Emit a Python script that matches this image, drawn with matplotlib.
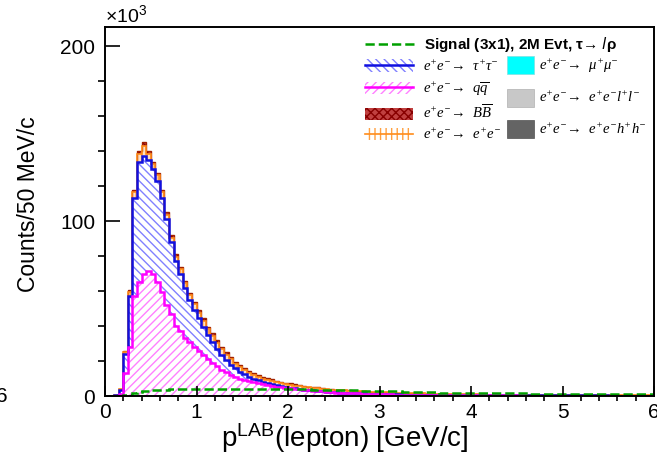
import numpy as np
import matplotlib
matplotlib.use('Agg')
import matplotlib.pyplot as plt
from matplotlib.patches import Patch
from matplotlib.lines import Line2D
from matplotlib.legend_handler import HandlerTuple
from matplotlib.ticker import MultipleLocator

plt.rcParams['font.family'] = ['Liberation Sans', 'DejaVu Sans']
plt.rcParams['mathtext.default'] = 'regular'
plt.rcParams['hatch.linewidth'] = 1.0

# p_LAB(lepton), 50 MeV bins from 0 to 6 GeV/c, counts in units of 10^3
bin_width = 0.05
n_bins = 120

qq = [0, 0, 0.2, 1.0, 13, 28, 57, 65, 70, 71.6,
      70, 65, 59.6, 52, 47, 40, 37, 33, 31, 28,
      26, 23.5, 21, 19, 17, 15, 13.5, 12, 11, 10,
      9, 8.4, 7.8, 7.2, 6.6, 6.1, 5.7, 5.3, 5.0, 4.7,
      4.4, 4.1, 3.8, 3.5, 3.2, 3.0, 2.8, 2.6, 2.4, 2.2,
      2.0, 1.9, 1.8, 1.7, 1.6, 1.5, 1.4, 1.3, 1.2, 1.1,
      1.0, 0.95, 0.9, 0.85, 0.8, 0.75, 0.7, 0.65, 0.6, 0.55,
      0.5, 0.5, 0.45, 0.45, 0.4, 0.4, 0.4, 0.35, 0.35, 0.35,
      0.3, 0.3, 0.3, 0.3, 0.3, 0.3, 0.3, 0.3, 0.3, 0.3,
      0.3, 0.3, 0.25, 0.25, 0.25, 0.25, 0.25, 0.25, 0.25, 0.25,
      0.25, 0.25, 0.25, 0.25, 0.25, 0.25, 0.25, 0.25, 0.25, 0.25,
      0.2, 0.2, 0.2, 0.2, 0.2, 0.2, 0.2, 0.2, 0.2, 0.2]

tautau = [0, 0.2, 0.3, 2.4, 11, 29, 56, 69, 67, 63.4,
          60, 58, 53.4, 49, 41, 37, 33, 29, 24, 21,
          18.5, 16.1, 14, 12, 10, 8.5, 7.1, 5.7, 5, 4,
          3.5, 2.6, 2.2, 1.8, 1.6, 1.3, 1.1, 0.9, 0.7, 0.5,
          0.4, 0.3, 0.3, 0.2, 0.2, 0.2, 0.2, 0.1, 0.1, 0.1,
          0.1, 0.1, 0.1, 0.1, 0.1, 0.1, 0.1, 0.1, 0.1, 0.1,
          0.1, 0.1, 0.1, 0.1, 0.1, 0.1, 0.1, 0.1, 0.1, 0.1,
          0.1, 0.1, 0.1, 0.1, 0.1, 0.1, 0.1, 0.1, 0.1, 0.1,
          0.05, 0.05, 0.05, 0.05, 0.05, 0.05, 0.05, 0.05, 0.05, 0.05,
          0.05, 0.05, 0.05, 0.05, 0.05, 0.05, 0.05, 0.05, 0.05, 0.05,
          0.05, 0.05, 0.05, 0.05, 0.05, 0.05, 0.05, 0.05, 0.05, 0.05,
          0.05, 0.05, 0.05, 0.05, 0.05, 0.05, 0.05, 0.05, 0.05, 0.05]

ee = [0, 0, 0.1, 0.5, 1.1, 2.5, 3.8, 4.5, 6.2, 3.5,
      2.7, 3.1, 3.5, 2.6, 2.6, 2.6, 2.6, 2.6, 2.6, 3.5,
      3.0, 3.4, 3.1, 3.5, 3.5, 3.1, 3.0, 3.4, 2.4, 2.5,
      2.3, 2.3, 2.1, 2.0, 1.8, 1.8, 1.8, 1.7, 1.7, 1.7,
      1.7, 1.6, 1.6, 1.5, 1.5, 1.5, 1.5, 1.4, 1.4, 1.4,
      1.3, 1.3, 1.3, 1.2, 1.2, 1.2, 1.1, 1.1, 1.1, 1.0,
      1.0, 1.0, 0.95, 0.95, 0.9, 0.9, 0.85, 0.85, 0.8, 0.8,
      0.75, 0.75, 0.7, 0.7, 0.7, 0.65, 0.65, 0.6, 0.6, 0.6,
      0.55, 0.55, 0.55, 0.5, 0.5, 0.5, 0.5, 0.45, 0.45, 0.45,
      0.45, 0.4, 0.4, 0.4, 0.4, 0.4, 0.4, 0.4, 0.4, 0.4,
      0.4, 0.4, 0.35, 0.35, 0.35, 0.35, 0.35, 0.35, 0.35, 0.35,
      0.3, 0.3, 0.3, 0.3, 0.3, 0.3, 0.3, 0.3, 0.3, 0.3]

bb = [0, 0, 0, 0.1, 0.4, 1.0, 1.2, 1.5, 1.8, 1.5,
      1.3, 1.4, 1.5, 1.4, 1.4, 1.4, 1.4, 1.4, 1.4, 1.5,
      1.5, 1.5, 1.5, 1.5, 1.5, 1.4, 1.4, 1.4, 1.2, 1.2,
      1.2, 1.2, 1.1, 1.0, 1.0, 1.0, 0.9, 0.9, 0.8, 0.8,
      0.7, 0.7, 0.6, 0.6, 0.5, 0.5, 0.4, 0.4, 0.3, 0.3,
      0.3, 0.2, 0.2, 0.2, 0.1, 0.1, 0.1, 0.1, 0, 0] + [0] * 60

signal = [0, 0, 0, 0.1, 0.3, 0.8, 1.5, 2.2, 2.8, 3.1,
          3.3, 3.5, 3.6, 3.7, 3.8, 3.9, 3.9, 4.0, 4.0, 4.0,
          4.0, 4.0, 4.1, 4.1, 4.1, 4.1, 4.1, 4.1, 4.1, 4.1,
          4.1, 4.1, 4.1, 4.0, 4.0, 4.0, 4.0, 4.0, 3.9, 3.9,
          3.9, 3.9, 3.8, 3.8, 3.8, 3.7, 3.7, 3.6, 3.6, 3.5,
          3.5, 3.4, 3.4, 3.3, 3.2, 3.2, 3.1, 3.0, 3.0, 2.9,
          2.8, 2.8, 2.7, 2.6, 2.6, 2.5, 2.4, 2.4, 2.3, 2.2,
          2.2, 2.1, 2.1, 2.0, 2.0, 1.9, 1.9, 1.9, 1.8, 1.8,
          1.8, 1.7, 1.7, 1.7, 1.6, 1.6, 1.6, 1.6, 1.5, 1.5,
          1.5, 1.5, 1.5, 1.4, 1.4, 1.4, 1.4, 1.4, 1.4, 1.3,
          1.3, 1.3, 1.3, 1.3, 1.3, 1.3, 1.3, 1.3, 1.3, 1.3,
          1.2, 1.2, 1.2, 1.2, 1.2, 1.2, 1.2, 1.2, 1.2, 1.2]

edges = np.arange(n_bins + 1) * bin_width
tops = np.cumsum([qq, tautau, ee, bb], axis=0)

fig = plt.figure(figsize=(6.57, 4.63), dpi=100)
ax = fig.add_axes([105 / 657, 1 - 396 / 463, 549 / 657, 369 / 463])

# stacked fills (hatched, ROOT-like)
ax.stairs(tops[0], edges, baseline=0, fill=True, facecolor='none',
          edgecolor='#ff80ff', hatch='////', lw=0)
ax.stairs(tops[1], edges, baseline=tops[0], fill=True, facecolor='none',
          edgecolor='#8080ff', hatch='\\\\\\\\', lw=0)
ax.stairs(tops[2], edges, baseline=tops[1], fill=True, facecolor='#ffe0c0',
          edgecolor='#ffa040', hatch='|||', lw=0)
ax.stairs(tops[3], edges, baseline=tops[2], fill=True, facecolor='#c04040',
          edgecolor='#880000', hatch='xxxx', lw=0)

# outlines
ax.stairs(tops[3], edges, color='#a02000', lw=1.0)
ax.stairs(tops[2], edges, color='#ff8c1a', lw=1.2)
ax.stairs(tops[1], edges, color='#1010e0', lw=1.8)
ax.stairs(tops[0], edges, color='#ff00ff', lw=1.8)
ax.stairs(signal, edges, color='#00a000', ls='--', lw=1.8)

ax.set_xlim(0, 6)
ax.set_ylim(0, 211)
ax.set_xticks(range(7))
ax.xaxis.set_minor_locator(MultipleLocator(0.2))
ax.set_yticks([0, 100, 200])
ax.yaxis.set_minor_locator(MultipleLocator(20))
ax.tick_params(direction='in', top=False, right=False, labelsize=15, width=1.2)
ax.tick_params(axis='y', which='major', length=11, pad=7)
ax.tick_params(axis='y', which='minor', length=5, width=1.2)
ax.tick_params(axis='x', which='major', length=7, pad=5)
ax.tick_params(axis='x', which='minor', length=3.5, width=1.2)
for s in ax.spines.values():
    s.set_linewidth(1.4)

ax.set_xlabel('p$^{LAB}$(lepton) [GeV/c]', fontsize=20)
ax.xaxis.set_label_coords(0.437, -0.068)
ax.set_ylabel('Counts/50 MeV/c', fontsize=16.5)
ax.yaxis.set_label_coords(-0.118, 0.52)
ax.text(0, 1.003, '×10$^{3}$', transform=ax.transAxes, fontsize=14,
        ha='left', va='bottom')
fig.text(-0.006, 1 - 396 / 463, '6', fontsize=15, ha='left', va='center')

# legends
overlay = {tuple: HandlerTuple(ndivide=1, pad=0)}
sig_leg = ax.legend([Line2D([], [], color='#00a000', ls='--', lw=1.8)],
                    ['Signal (3x1), 2M Evt, τ→ $\\it{l}$ρ'],
                    loc='upper left', bbox_to_anchor=(0.4736, 0.978),
                    frameon=False, borderpad=0, borderaxespad=0,
                    handlelength=3.2, handletextpad=0.65,
                    prop=dict(family=['Liberation Sans', 'DejaVu Sans'],
                              weight='bold', size=11))
ax.add_artist(sig_leg)

left_handles = [
    (Patch(facecolor='white', edgecolor='#8080ff', hatch='\\\\\\\\', lw=0),
     Line2D([], [], color='#1010e0', lw=1.8)),
    (Patch(facecolor='white', edgecolor='#ff80ff', hatch='////', lw=0),
     Line2D([], [], color='#ff00ff', lw=1.8)),
    (Patch(facecolor='#c04040', edgecolor='#880000', hatch='xxxx', lw=0),),
    (Patch(facecolor='white', edgecolor='#ffa040', hatch='|||', lw=0),
     Line2D([], [], color='#ff8c1a', lw=1.2)),
]
left_labels = ['$e^{+}e^{-}$→  $\\tau^{+}\\tau^{-}$',
               '$e^{+}e^{-}$→  $q\\overline{q}$',
               '$e^{+}e^{-}$→  $B\\overline{B}$',
               '$e^{+}e^{-}$→  $e^{+}e^{-}$']
left_leg = ax.legend(left_handles, left_labels, loc='upper left',
                     bbox_to_anchor=(0.4736, 0.915), frameon=False,
                     borderpad=0, borderaxespad=0, handlelength=3.3,
                     handleheight=0.9, handletextpad=0.65, labelspacing=0.38,
                     handler_map=overlay,
                     prop=dict(family=['Liberation Serif', 'DejaVu Serif'],
                               style='italic', size=10.5))
ax.add_artist(left_leg)

right_handles = [Patch(facecolor='#00ffff', edgecolor='#80e0e0', lw=0.5),
                 Patch(facecolor='#c8c8c8', edgecolor='#b0b0b0', lw=0.5),
                 Patch(facecolor='#646464', edgecolor='#505050', lw=0.5)]
right_labels = ['$e^{+}e^{-}$→  $\\mu^{+}\\mu^{-}$',
                '$e^{+}e^{-}$→  $e^{+}e^{-}l^{+}l^{-}$',
                '$e^{+}e^{-}$→  $e^{+}e^{-}h^{+}h^{-}$']
ax.legend(right_handles, right_labels, loc='upper left',
          bbox_to_anchor=(0.732, 0.921), frameon=False, borderpad=0,
          borderaxespad=0, handlelength=1.85, handleheight=1.5,
          handletextpad=0.35, labelspacing=0.95,
          prop=dict(family=['Liberation Serif', 'DejaVu Serif'],
                    style='italic', size=10.5))

fig.savefig('out.png', dpi=100)
